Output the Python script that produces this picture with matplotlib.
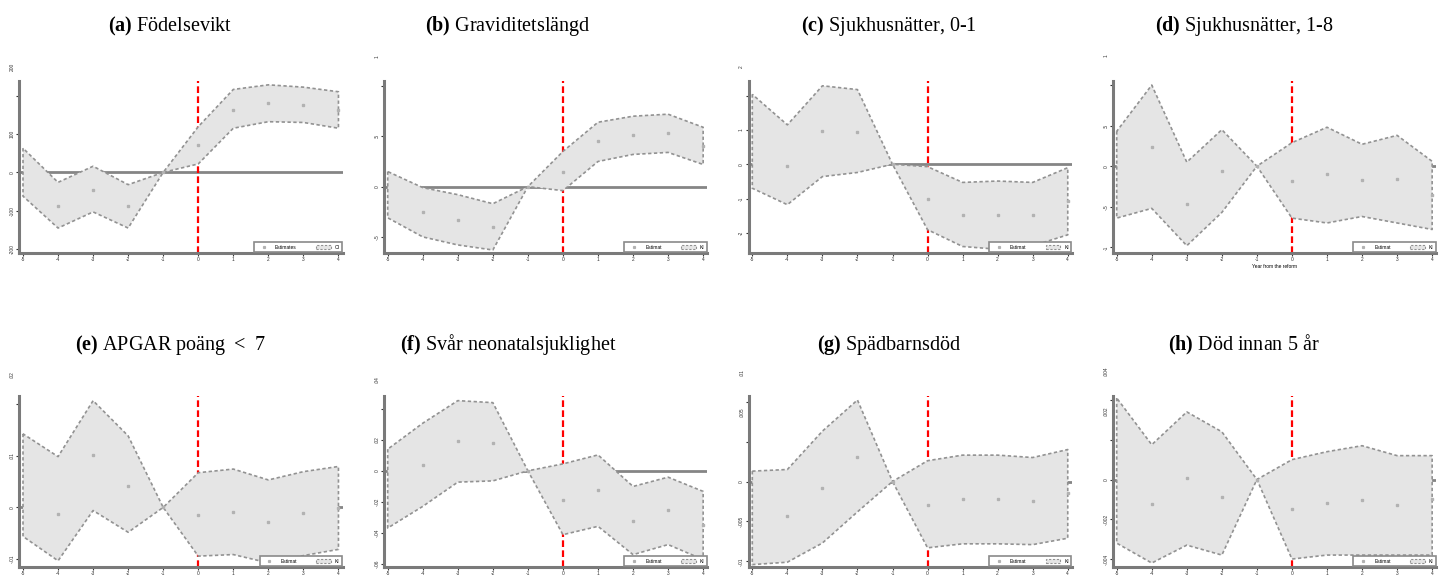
import matplotlib
matplotlib.use('Agg')
import matplotlib.pyplot as plt
from matplotlib.lines import Line2D
from matplotlib.patches import Patch
from matplotlib.transforms import ScaledTranslation, blended_transform_factory

plt.rcParams['font.family'] = ['Liberation Sans', 'DejaVu Sans']
plt.rcParams['mathtext.fontset'] = 'custom'
plt.rcParams['mathtext.rm'] = 'Liberation Serif'
plt.rcParams['mathtext.bf'] = 'Liberation Serif:bold'

# år relativt reformen
years = [-5, -4, -3, -2, -1, 0, 1, 2, 3, 4]

# (a) Födelsevikt
est_a = [None, -88, -45, -88, 0, 72, 163, 180, 176, 163]
lo_a = [-62, -145, -103, -145, 0, 22, 115, 132, 130, 115]
hi_a = [63, -26, 16, -32, 0, 119, 216, 228, 222, 210]

# (b) Graviditetslängd
est_b = [None, -0.25, -0.33, -0.40, 0, 0.15, 0.45, 0.51, 0.53, 0.40]
lo_b = [-0.31, -0.50, -0.58, -0.63, 0, -0.04, 0.25, 0.32, 0.34, 0.22]
hi_b = [0.15, -0.01, -0.08, -0.17, 0, 0.35, 0.64, 0.70, 0.72, 0.59]

# (c) Sjukhusnätter, 0-1
est_c = [None, -0.04, 0.98, 0.95, 0, -1.01, -1.48, -1.48, -1.48, -1.07]
lo_c = [-0.70, -1.18, -0.36, -0.24, 0, -1.91, -2.40, -2.48, -2.38, -2.06]
hi_c = [2.04, 1.15, 2.29, 2.18, 0, -0.07, -0.53, -0.49, -0.53, -0.10]

# (d) Sjukhusnätter, 1-8
est_d = [None, 0.24, -0.47, -0.06, 0, -0.18, -0.10, -0.17, -0.16, -0.35]
lo_d = [-0.64, -0.52, -0.98, -0.57, 0, -0.64, -0.70, -0.62, -0.70, -0.78]
hi_d = [0.43, 1.00, 0.05, 0.45, 0, 0.29, 0.48, 0.27, 0.38, 0.06]

# (e) APGAR poäng < 7
est_e = [None, -0.0013, 0.0101, 0.0042, 0, -0.0014, -0.0008, -0.0028, -0.0011, -0.0001]
lo_e = [-0.0056, -0.0103, -0.0006, -0.0048, 0, -0.0094, -0.0091, -0.0107, -0.0093, -0.0081]
hi_e = [0.0142, 0.0098, 0.0206, 0.0138, 0, 0.0067, 0.0074, 0.0053, 0.0069, 0.0079]

# (f) Svår neonatalsjuklighet
est_f = [None, 0.0039, 0.0194, 0.0183, 0, -0.0187, -0.0127, -0.0327, -0.0256, -0.035]
lo_f = [-0.037, -0.023, -0.0073, -0.0065, 0, -0.0413, -0.0359, -0.0542, -0.0477, -0.0574]
hi_f = [0.014, 0.0308, 0.0454, 0.0441, 0, 0.0045, 0.0103, -0.0101, -0.0041, -0.0133]

# (g) Spädbarnsdöd
est_g = [None, -0.0043, -0.0008, 0.0031, 0, -0.0029, -0.0022, -0.0022, -0.0025, -0.0015]
lo_g = [-0.0104, -0.0101, -0.0077, -0.0038, 0, -0.0083, -0.0078, -0.0078, -0.0079, -0.0071]
hi_g = [0.0013, 0.0015, 0.0063, 0.0102, 0, 0.0026, 0.0033, 0.0033, 0.0030, 0.0040]

# (h) Död innan 5 år
est_h = [None, -0.00125, 0.0001, -0.0009, 0, -0.0015, -0.0012, -0.00105, -0.0013, -0.001]
lo_h = [-0.0032, -0.0042, -0.0033, -0.0038, 0, -0.0040, -0.0038, -0.0038, -0.0038, -0.0038]
hi_h = [0.0041, 0.00175, 0.0034, 0.0024, 0, 0.0010, 0.0014, 0.0017, 0.0012, 0.0012]

titles = [r'$\mathbf{(a)}$ Födelsevikt', r'$\mathbf{(b)}$ Graviditetslängd',
          r'$\mathbf{(c)}$ Sjukhusnätter, 0-1', r'$\mathbf{(d)}$ Sjukhusnätter, 1-8',
          r'$\mathbf{(e)}$ APGAR poäng $<$ 7', r'$\mathbf{(f)}$ Svår neonatalsjuklighet',
          r'$\mathbf{(g)}$ Spädbarnsdöd', r'$\mathbf{(h)}$ Död innan 5 år']

yticks = [[-200, -100, 0, 100, 200],
          [-0.5, 0, 0.5, 1],
          [-2, -1, 0, 1, 2],
          [-1, -0.5, 0, 0.5, 1],
          [-0.01, 0, 0.01, 0.02],
          [-0.06, -0.04, -0.02, 0, 0.02, 0.04],
          [-0.01, -0.005, 0, 0.005, 0.01],
          [-0.004, -0.002, 0, 0.002, 0.004]]

ylims = [(-210, 238), (-0.66, 1.05), (-2.59, 2.43), (-1.07, 1.05),
         (-0.0115, 0.0215), (-0.0622, 0.0484), (-0.0107, 0.0107), (-0.0044, 0.0042)]

leg_labels = [('Estimates', 'CI')] + [('Estimat', 'KI')] * 7
n_shift = [1, 1, 1, 1, 1, 1, 2, 2]

panels = [(est_a, lo_a, hi_a), (est_b, lo_b, hi_b), (est_c, lo_c, hi_c), (est_d, lo_d, hi_d),
          (est_e, lo_e, hi_e), (est_f, lo_f, hi_f), (est_g, lo_g, hi_g), (est_h, lo_h, hi_h)]


def stata_fmt(v):
    s = f'{v:g}'
    return s.replace('0.', '.')


W, H = 1441, 576
fig = plt.figure(figsize=(W / 100, H / 100), dpi=100)

col_x5 = [23.0, 387.7, 752.3, 1116.7]   # pixel of x=-5
scale = 35.05                            # pixels per year
rows = [(81, 253), (396, 567)]
title_x = [170, 508, 889, 1244]
title_y = [31, 350]

fill_c = '#e5e5e5'
edge_c = '#929292'
dot_c = '#b2b2b2'

for i, (est, lo, hi) in enumerate(panels):
    r, c = divmod(i, 4)
    top, bot = rows[r]
    left = col_x5[c] - 0.1 * scale
    width = 9.22 * scale
    ax = fig.add_axes([left / W, 1 - bot / H, width / W, (bot - top) / H])
    ax.set_xlim(-5.1, 4.12)
    ax.set_ylim(*ylims[i])

    ax.axhline(0, color='#858585', lw=2, zorder=1)
    ax.axvline(0, color='red', lw=1.6, ls=(0, (3, 1.5)), zorder=1)
    ax.fill_between(years, lo, hi, facecolor=fill_c, edgecolor=edge_c,
                    linewidth=1.2, linestyle=(0, (2, 1.5)), zorder=2)
    xs = [x for x, e in zip(years, est) if e is not None]
    es = [e for e in est if e is not None]
    ax.plot(xs, es, 's', ms=1.8, color=dot_c, mec=dot_c, zorder=3)

    for s in ['top', 'right']:
        ax.spines[s].set_visible(False)
    for s in ['left', 'bottom']:
        ax.spines[s].set_color('#7a7a7a')
        ax.spines[s].set_linewidth(2.2)

    ax.set_xticks(years)
    ax.set_xticklabels([str(y) for y in years])
    ticks = yticks[i]
    labels = [stata_fmt(v) for v in ticks]
    k = n_shift[i]
    shown = labels[:-k] + [''] * k
    ax.set_yticks(ticks)
    ax.set_yticklabels(shown)
    trans = blended_transform_factory(ax.transAxes, ax.transData) + \
        ScaledTranslation(-0.07, 0.29, fig.dpi_scale_trans)
    for v, lab in zip(ticks[-k:], labels[-k:]):
        ax.text(0, v, lab, transform=trans, rotation=90, fontsize=3.5,
                color='#333333', ha='center', va='center')
    ax.tick_params(axis='both', labelsize=3.5, length=2, width=0.8,
                   colors='#333333', pad=1)
    ax.tick_params(axis='y', labelrotation=90, pad=1.5)
    for t in ax.get_yticklabels():
        t.set_va('center')

    if i == 3:
        ax.set_xlabel('Year from the reform', fontsize=3.5, labelpad=1)

    handles = [Line2D([], [], marker='s', ls='none', ms=1.3, color=dot_c),
               Patch(facecolor=fill_c, edgecolor=edge_c, linestyle=(0, (2, 1.5)), lw=0.8)]
    leg = ax.legend(handles, leg_labels[i], loc='lower right', bbox_to_anchor=(1.0, 0.0),
                    ncol=2, fontsize=3.5, frameon=True, fancybox=False,
                    edgecolor='#8a8a8a', framealpha=1, borderaxespad=0.15,
                    handlelength=3, columnspacing=4, borderpad=0.5)
    leg.get_frame().set_linewidth(1.2)

    fig.text(title_x[c] / W, 1 - title_y[r] / H, titles[i], fontsize=14.5,
             family='Liberation Serif', ha='center', va='baseline')

fig.savefig('out.png', dpi=100)
